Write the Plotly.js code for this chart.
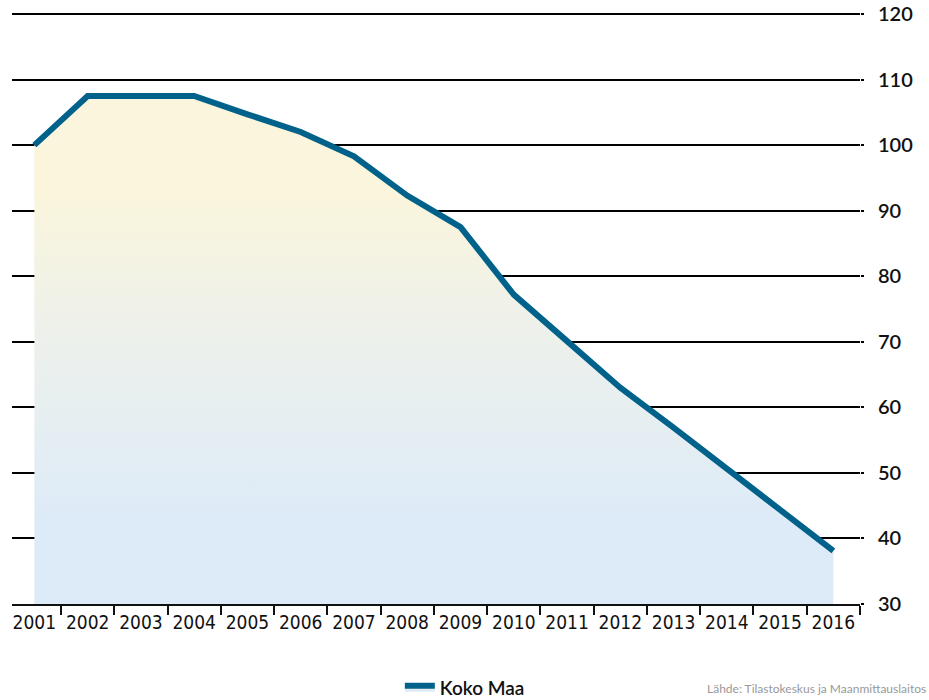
<!DOCTYPE html>
<html>
<head>
<meta charset="utf-8">
<script src="https://cdn.plot.ly/plotly-3.0.1.min.js"></script>
<style>html,body{margin:0;padding:0;background:#fff;}#chart{width:929px;height:700px;}</style>
</head>
<body>
<div id="chart"></div>
<script>
const years = ["2001","2002","2003","2004","2005","2006","2007","2008","2009","2010","2011","2012","2013","2014","2015","2016"];
const kokoMaa = [100, 107.5, 107.5, 107.5, 104.7, 102, 98.3, 92.3, 87.5, 77.2, 70.1, 63.0, 56.9, 50.6, 44.5, 38.1];
const seriesName = "Koko Maa";
const yTicks = [30, 40, 50, 60, 70, 80, 90, 100, 110, 120];
const sourceText = "Lähde: Tilastokeskus ja Maanmittauslaitos";

const trace = {
  x: years,
  y: kokoMaa,
  type: "scatter",
  mode: "lines",
  name: seriesName,
  line: {color: "#00628B", width: 6},
  fill: "tozeroy",
  fillgradient: {
    type: "vertical",
    start: 30,
    stop: 108,
    colorscale: [[0, "#DDEBF8"], [0.16, "#DDEBF8"], [0.55, "#EEF1EA"], [0.8, "#FAF5DC"], [1, "#FAF5DC"]]
  },
  hoverinfo: "skip"
};

const yMax = yTicks[yTicks.length - 1];

const layout = {
  width: 929,
  height: 700,
  margin: {l: 12, r: 69, t: 14, b: 96, autoexpand: false},
  paper_bgcolor: "#fff",
  plot_bgcolor: "#fff",
  showlegend: true,
  legend: {
    orientation: "h",
    x: 0.534, xanchor: "center",
    y: -0.142, yanchor: "middle",
    font: {family: "Lato, 'Open Sans', sans-serif", size: 19, color: "#111", weight: 600}
  },
  xaxis: {
    type: "category",
    range: [-0.42, 15.5],
    tickson: "boundaries",
    ticks: "outside",
    ticklen: 9,
    tickwidth: 2,
    tickcolor: "#111",
    showline: true,
    linewidth: 2,
    linecolor: "#111",
    showgrid: false,
    zeroline: false,
    tickangle: 0,
    automargin: false,
    tickfont: {family: "'Liberation Sans Narrow', 'DejaVu Sans Condensed', sans-serif", size: 19, color: "#111"},
    fixedrange: true
  },
  yaxis: {
    side: "right",
    range: [30, yMax],
    tickvals: yTicks,
    ticktext: yTicks.map(String),
    showgrid: true,
    gridcolor: "#000",
    gridwidth: 2,
    zeroline: false,
    showline: false,
    ticks: "outside",
    ticklen: 3,
    tickwidth: 2,
    tickcolor: "#000",
    ticklabelstandoff: 10,
    automargin: false,
    tickfont: {family: "Lato, 'Open Sans', sans-serif", size: 20, color: "#111", weight: 600},
    fixedrange: true
  },
  shapes: [{
    type: "line", xref: "paper", yref: "paper",
    x0: 0, x1: 1, y0: 1, y1: 1,
    line: {color: "#000", width: 2}
  }],
  annotations: [{
    text: sourceText,
    xref: "paper", yref: "paper",
    x: 1.08, xanchor: "right",
    y: -0.159, yanchor: "bottom",
    showarrow: false,
    font: {family: "Lato, sans-serif", size: 12, color: "#999"}
  }]
};

Plotly.newPlot("chart", [trace], layout, {displayModeBar: false, staticPlot: true});
</script>
</body>
</html>
